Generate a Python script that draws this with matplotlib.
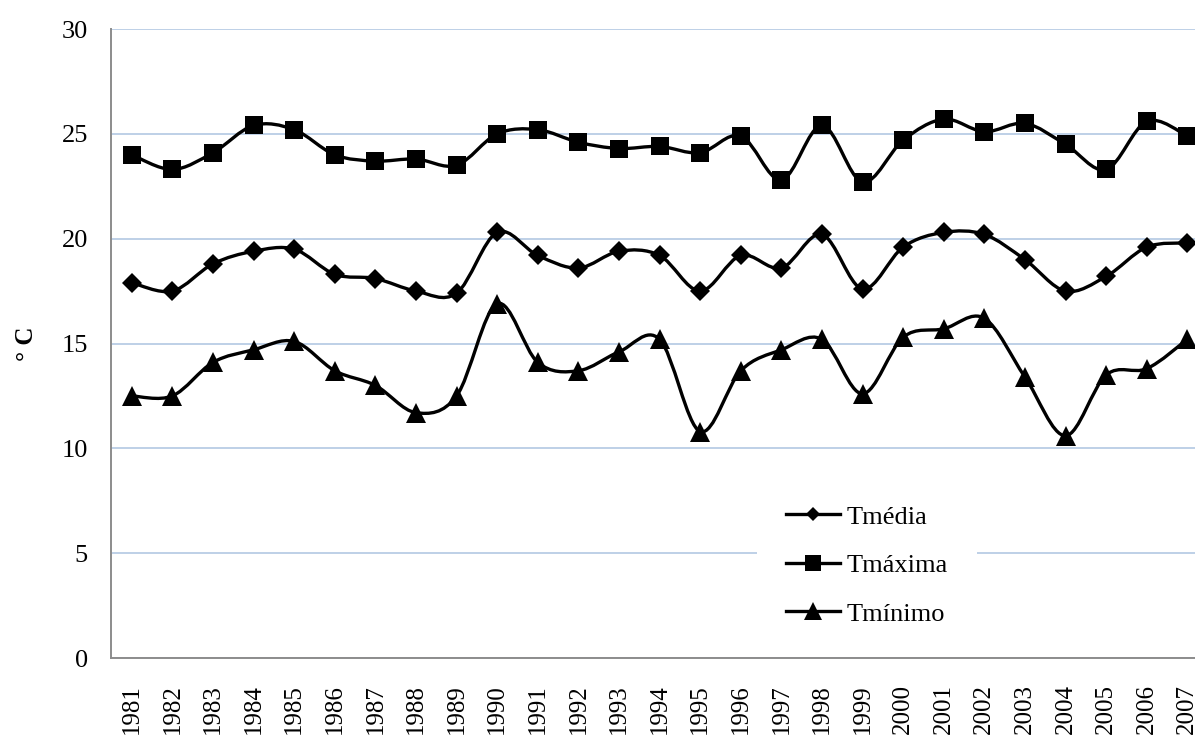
import numpy as np
import matplotlib
matplotlib.use("Agg")
import matplotlib.pyplot as plt
from matplotlib.path import Path
from matplotlib.patches import PathPatch
from matplotlib.lines import Line2D

# =============================
# DATA
# =============================

years = [str(y) for y in range(1981, 2008)]

t_media = [17.9, 17.5, 18.8, 19.4, 19.5, 18.3, 18.1, 17.5, 17.4, 20.3,
           19.2, 18.6, 19.4, 19.2, 17.5, 19.2, 18.6, 20.2, 17.6, 19.6,
           20.3, 20.2, 19.0, 17.5, 18.2, 19.6, 19.8]

t_maxima = [24.0, 23.3, 24.1, 25.4, 25.2, 24.0, 23.7, 23.8, 23.5, 25.0,
            25.2, 24.6, 24.3, 24.4, 24.1, 24.9, 22.8, 25.4, 22.7, 24.7,
            25.7, 25.1, 25.5, 24.5, 23.3, 25.6, 24.9]

t_minimo = [12.5, 12.5, 14.1, 14.7, 15.1, 13.7, 13.0, 11.7, 12.5, 16.9,
            14.1, 13.7, 14.6, 15.2, 10.8, 13.7, 14.7, 15.2, 12.6, 15.3,
            15.7, 16.2, 13.4, 10.6, 13.5, 13.8, 15.2]

series_labels = ["Tmédia", "Tmáxima", "Tmínimo"]

# =============================
# STYLE
# =============================

plt.rcParams["font.family"] = ["Liberation Serif", "DejaVu Serif"]

LINE_W = 2.4
GRID_COLOR = "#B9CDE5"
SPINE_COLOR = "#8C8C8C"


def smooth_path(xs, ys):
    # Excel style smoothed line: cubic bezier through every point
    pts = np.column_stack([xs, ys]).astype(float)
    n = len(pts)
    verts = [pts[0]]
    codes = [Path.MOVETO]
    for i in range(n - 1):
        p_prev = pts[i - 1] if i > 0 else pts[i]
        p_next = pts[i + 2] if i + 2 < n else pts[i + 1]
        c1 = pts[i] + (pts[i + 1] - p_prev) / 6.0
        c2 = pts[i + 1] - (p_next - pts[i]) / 6.0
        verts += [c1, c2, pts[i + 1]]
        codes += [Path.CURVE4] * 3
    return Path(verts, codes)


fig = plt.figure(figsize=(11.95, 7.38), dpi=100)
ax = fig.add_axes([0.0933, 0.1084, 0.9173, 0.8523])

x = np.arange(len(years))

markers = [("D", 9.7), ("s", 13.4), ("^", 13.7)]
for vals, (mk, ms) in zip([t_media, t_maxima, t_minimo], markers):
    patch = PathPatch(smooth_path(x, vals), facecolor="none", edgecolor="black",
                      lw=LINE_W, capstyle="round", joinstyle="round", zorder=3)
    ax.add_patch(patch)
    ax.plot(x, vals, linestyle="none", marker=mk, markersize=ms,
            color="black", markeredgewidth=0, zorder=4)

ax.set_xlim(-0.5, len(years) - 0.5)
ax.set_ylim(0, 30)
ax.set_yticks(np.arange(0, 31, 5))
ax.set_xticks(x)
ax.set_xticklabels(years, rotation=90)

ax.grid(axis="y", color=GRID_COLOR, lw=1.3)
ax.set_axisbelow(True)
for side in ["top", "right"]:
    ax.spines[side].set_visible(False)
for side in ["left", "bottom"]:
    ax.spines[side].set_color(SPINE_COLOR)
    ax.spines[side].set_linewidth(1.4)

ax.tick_params(axis="y", length=0, pad=17, labelsize=19)
ax.tick_params(axis="x", length=0, pad=19, labelsize=18)

ax.set_ylabel("° C", fontsize=18, fontweight="bold", labelpad=17)

# legend
handles = [
    Line2D([], [], color="black", lw=LINE_W, marker="D", markersize=7.5, markeredgewidth=0),
    Line2D([], [], color="black", lw=LINE_W, marker="s", markersize=12, markeredgewidth=0),
    Line2D([], [], color="black", lw=LINE_W, marker="^", markersize=13, markeredgewidth=0),
]
leg = fig.legend(handles, series_labels, loc="center",
                 bbox_to_anchor=(0.7255, 0.2340), bbox_transform=fig.transFigure,
                 fontsize=19, frameon=True, fancybox=False, framealpha=1,
                 facecolor="white", edgecolor="none", handlelength=2.05,
                 handletextpad=0.26, labelspacing=0.95, borderpad=1.1)

fig.savefig("out.png", dpi=100)
